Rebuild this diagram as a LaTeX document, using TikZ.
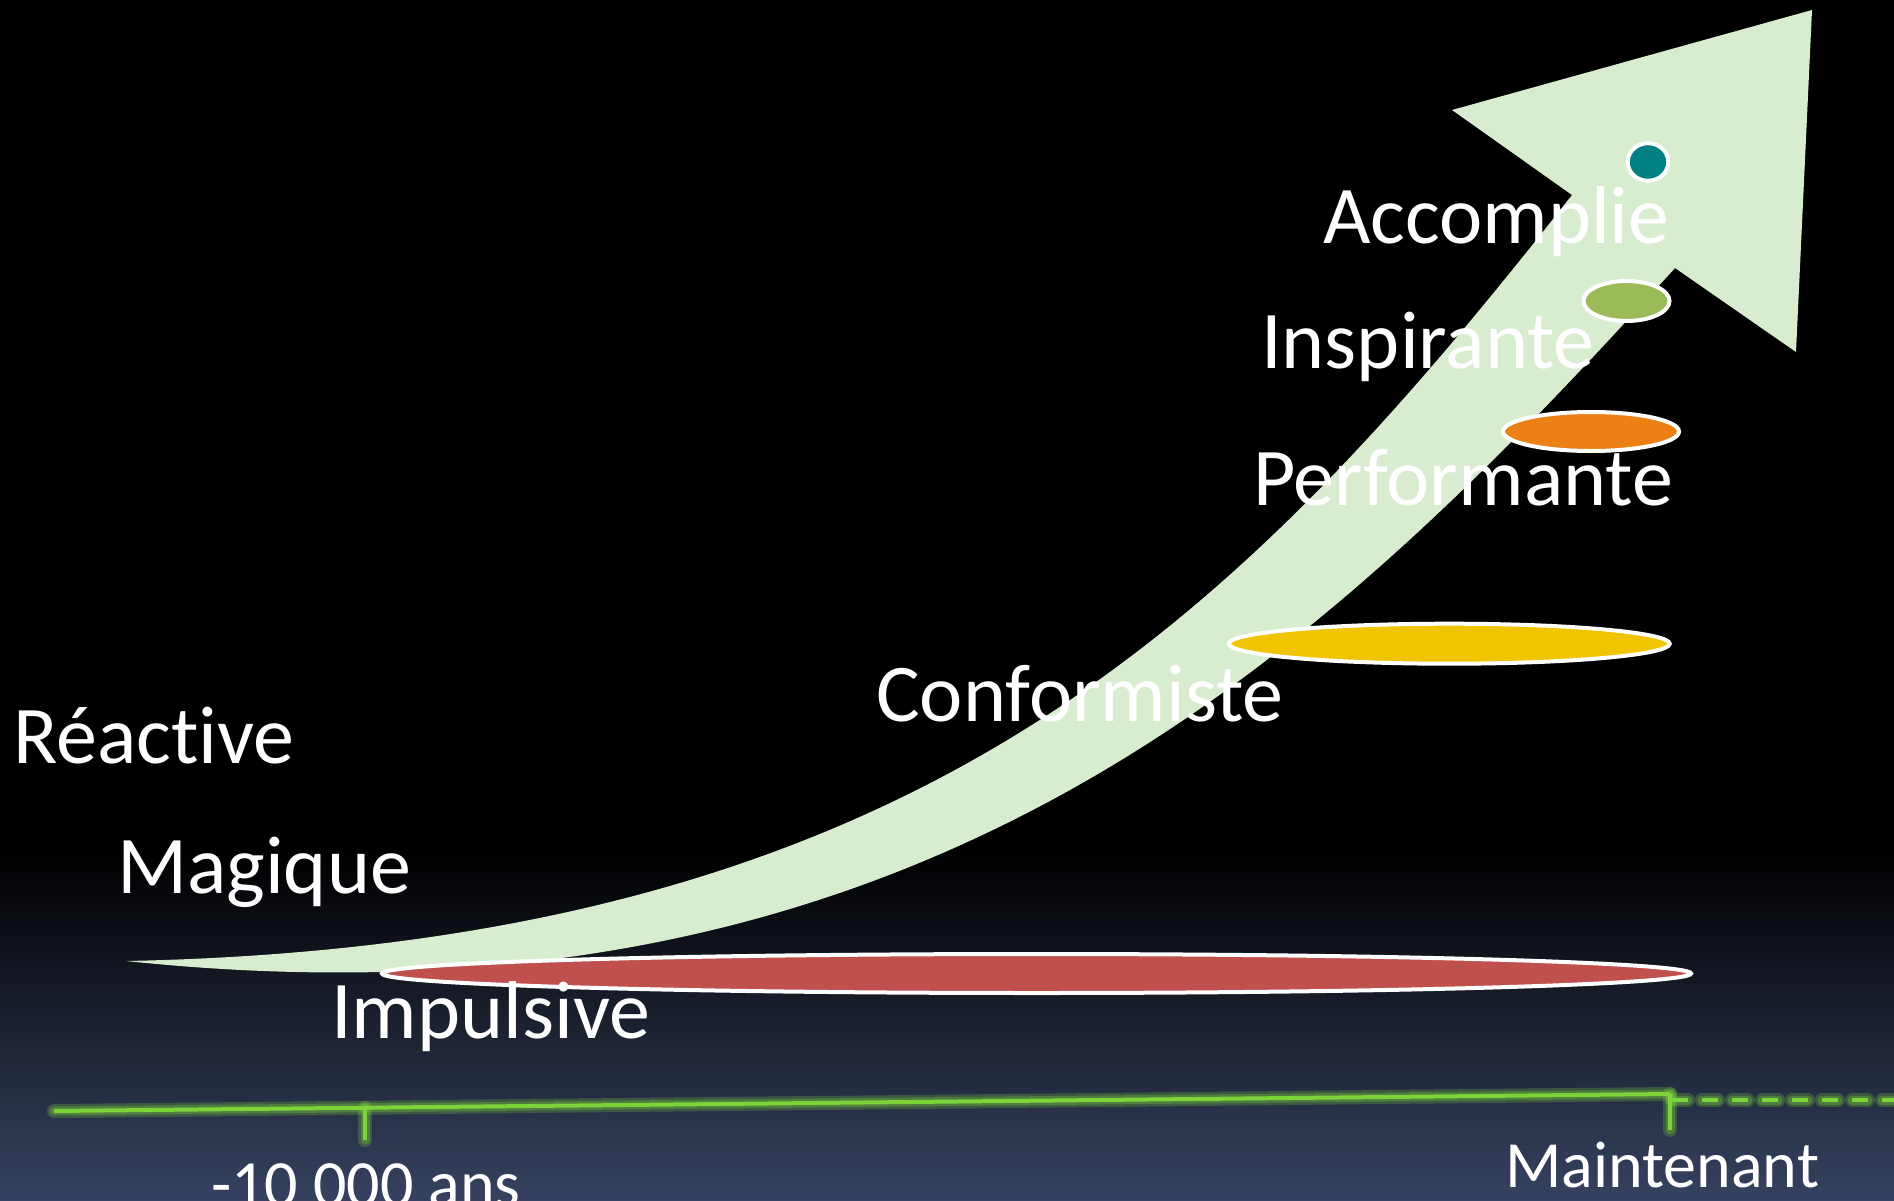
\documentclass[tikz,border=0pt]{standalone}
\usepackage{fontspec}
\setmainfont{Carlito}[Ligatures=NoCommon]
\definecolor{bgbot}{RGB}{54,66,96}
\definecolor{arrowgreen}{RGB}{216,236,208}
\definecolor{tealc}{RGB}{0,128,128}
\definecolor{olivec}{RGB}{155,187,89}
\definecolor{orangec}{RGB}{235,128,20}
\definecolor{yellowc}{RGB}{240,196,0}
\definecolor{redc}{RGB}{192,80,77}
\definecolor{linegreen}{RGB}{124,212,58}
\tikzset{
  ring/.style={draw=white, line width=4},
  lbl/.style={text=white, font=\fontsize{82}{98}\selectfont, anchor=base west, inner sep=0pt},
  tlbl/.style={text=white, font=\fontsize{66}{80}\selectfont, anchor=base west, inner sep=0pt},
  glowline/.style={draw=linegreen, line width=14, opacity=0.25, line cap=round},
  glowline2/.style={draw=linegreen, line width=9, opacity=0.3, line cap=round},
  tline/.style={draw=linegreen, line width=4},
}
\begin{document}
\begin{tikzpicture}[x=1pt,y=-1pt]
\useasboundingbox (0,0) rectangle (1894,1201);
\fill[black] (0,0) rectangle (1894,1201);
\shade[top color=black, bottom color=bgbot] (0,850) rectangle (1894,1201);

% arrow
\coordinate (tail) at (126,961);
\coordinate (neckL) at (1572,195);
\coordinate (barbL) at (1452,110);
\coordinate (tip) at (1812,10);
\coordinate (barbR) at (1796,352);
\coordinate (neckR) at (1675,268);
\fill[arrowgreen] (tail) .. controls (926,945) and (1242,614) .. (neckL)
  -- (barbL) -- (tip) -- (barbR) -- (neckR)
  .. controls (1325,653) and (926,1045) .. (tail) -- cycle;

% ellipses
\draw[ring, fill=redc] (1036.5,973.5) ellipse [x radius=654.5, y radius=19.5];
\draw[ring, fill=yellowc] (1449.2,643.7) ellipse [x radius=220.5, y radius=20];
\draw[ring, fill=orangec] (1591,431.5) ellipse [x radius=88, y radius=19.5];
\draw[ring, fill=olivec] (1626.5,301) ellipse [x radius=43, y radius=20];
\draw[ring, fill=tealc] (1648,162) ellipse [x radius=20.3, y radius=18.8];

% timeline
\coordinate (tlL) at (54,1111);
\coordinate (tk1) at (365,1107.7);
\coordinate (tk1b) at (365,1140);
\coordinate (tlR) at (1670,1094);
\coordinate (tk2b) at (1670,1130);
\coordinate (dsL) at (1672,1100);
\coordinate (dsR) at (1894,1100);
\foreach \st in {glowline,glowline2} {
  \draw[\st] (tlL) -- (tlR);
  \draw[\st] (tk1) -- (tk1b);
  \draw[\st] (tlR) -- (tk2b);
  \draw[\st, dash pattern=on 16 off 14] (dsL) -- (dsR);
}
\draw[tline] (tlL) -- (tlR);
\draw[tline] (tk1) -- (tk1b);
\draw[tline] (tlR) -- (tk2b);
\draw[tline, dash pattern=on 16 off 14] (dsL) -- (dsR);

% labels
\node[lbl] (reactive) at (13,763) {Réactive};
\node[lbl] (magique) at (117,893) {Magique};
\node[lbl] (impulsive) at (331,1038) {Impulsive};
\node[lbl] (conformiste) at (876,721) {Conformiste};
\node[lbl] (performante) at (1253,505) {Performante};
\node[lbl] (inspirante) at (1261,368) {Inspirante};
\node[lbl] (accomplie) at (1323,243) {Accomplie};
\node[tlbl] (ans) at (211,1206) {-10 000 ans};
\node[tlbl] (maintenant) at (1505,1187) {Maintenant};
\end{tikzpicture}
\end{document}
